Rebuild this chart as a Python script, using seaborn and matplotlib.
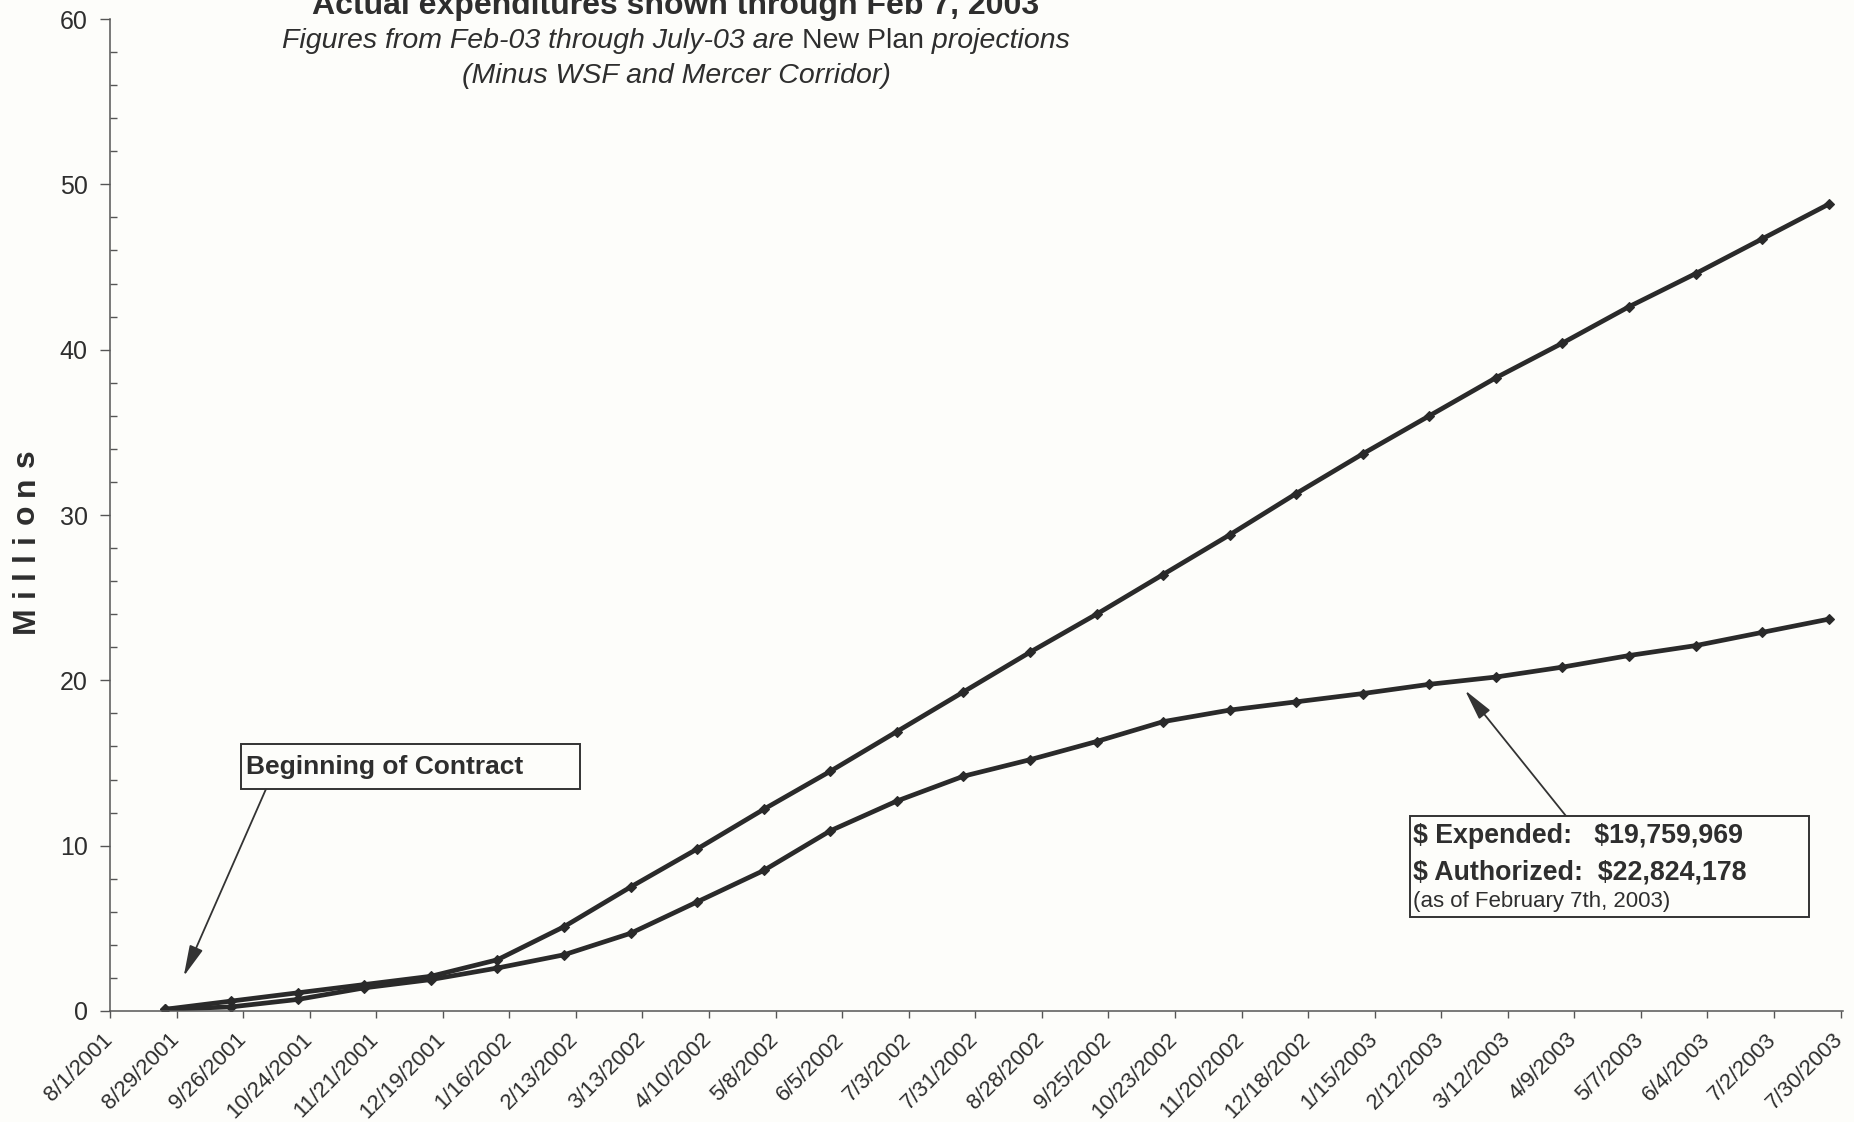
import matplotlib
matplotlib.use("Agg")
import matplotlib.pyplot as plt
from matplotlib.patches import Rectangle
from matplotlib.ticker import MultipleLocator
from matplotlib.transforms import ScaledTranslation
import pandas as pd
import seaborn as sns

# ---- data (millions of dollars, cumulative) ----
tick_labels = ["8/1/2001", "8/29/2001", "9/26/2001", "10/24/2001", "11/21/2001",
               "12/19/2001", "1/16/2002", "2/13/2002", "3/13/2002", "4/10/2002",
               "5/8/2002", "6/5/2002", "7/3/2002", "7/31/2002", "8/28/2002",
               "9/25/2002", "10/23/2002", "11/20/2002", "12/18/2002", "1/15/2003",
               "2/12/2003", "3/12/2003", "4/9/2003", "5/7/2003", "6/4/2003",
               "7/2/2003", "7/30/2003"]

period_dates = ["8/24/2001", "9/21/2001", "10/19/2001", "11/16/2001", "12/14/2001",
                "1/11/2002", "2/8/2002", "3/8/2002", "4/5/2002", "5/3/2002",
                "5/31/2002", "6/28/2002", "7/26/2002", "8/23/2002", "9/20/2002",
                "10/18/2002", "11/15/2002", "12/13/2002", "1/10/2003", "2/7/2003",
                "3/7/2003", "4/4/2003", "5/2/2003", "5/30/2003", "6/27/2003",
                "7/25/2003"]

plan_millions = [0.1, 0.6, 1.1, 1.6, 2.1, 3.1, 5.1, 7.5, 9.8, 12.2,
                 14.5, 16.9, 19.3, 21.7, 24.0, 26.4, 28.8, 31.3, 33.7, 36.0,
                 38.3, 40.4, 42.6, 44.6, 46.7, 48.8]

expended_millions = [0.1, 0.25, 0.7, 1.4, 1.9, 2.6, 3.4, 4.7, 6.6, 8.5,
                     10.9, 12.7, 14.2, 15.2, 16.3, 17.5, 18.2, 18.7, 19.2, 19.759969,
                     20.2, 20.8, 21.5, 22.1, 22.9, 23.7]

series_names = ["Plan", "Expended"]

title_text = "Actual expenditures shown through Feb 7, 2003"
subtitle_parts = [("Figures from Feb-03 through July-03 are ", "italic"),
                  ("New Plan", "normal"),
                  (" projections", "italic")]
subtitle2_text = "(Minus WSF and Mercer Corridor)"
ylabel_text = "Millions"
contract_note = "Beginning of Contract"
status_lines = ["$ Expended:   $19,759,969", "$ Authorized:  $22,824,178",
                "(as of February 7th, 2003)"]

# ---- style ----
sns.set_theme(style="white")
plt.rcParams["font.family"] = ["Liberation Sans", "DejaVu Sans"]

BG = "#fdfdfa"
INK = "#2e2e2e"
LINE = "#2a2a2a"
AXIS = "#555555"

W, H = 1854, 1122
fig = plt.figure(figsize=(W / 100, H / 100), dpi=100, facecolor=BG)


def fx(px):
    return px / W


def fy(py):
    return 1 - py / H


ax = fig.add_axes([fx(110), fy(1011), fx(1843) - fx(110), fy(19) - fy(1011)])
ax.set_facecolor(BG)

dates = pd.to_datetime(period_dates, format="%m/%d/%Y")
df = pd.DataFrame({
    "date": list(dates) * 2,
    "value": plan_millions + expended_millions,
    "series": [series_names[0]] * len(dates) + [series_names[1]] * len(dates),
})

sns.lineplot(data=df, x="date", y="value", hue="series",
             palette=[LINE, LINE], marker="D", markersize=5,
             markeredgecolor=LINE, markeredgewidth=0.8, linewidth=3.4,
             legend=False, estimator=None, ax=ax)

tick_dates = pd.to_datetime(tick_labels, format="%m/%d/%Y")
ax.set_xlim(tick_dates[0], tick_dates[-1] + pd.Timedelta(days=1))
ax.set_xticks(tick_dates)
ax.set_xticklabels(tick_labels, rotation=45, ha="right", va="top",
                   rotation_mode="anchor", fontsize=16, color=INK)
ax.set_ylim(0, 60)
ax.yaxis.set_major_locator(MultipleLocator(10))
ax.yaxis.set_minor_locator(MultipleLocator(2))

ax.tick_params(axis="x", which="major", bottom=True, direction="out",
               length=5, width=1, color=AXIS, pad=8)
ax.tick_params(axis="y", which="major", left=True, direction="out",
               length=7, width=1, color=AXIS, pad=9, labelsize=18,
               labelcolor=INK)
ax.tick_params(axis="y", which="minor", left=True, direction="in",
               length=5, width=1, color=AXIS)
ax.set_xlabel("")
ax.set_ylabel("")

# nudge the slanted date labels so their ends sit just left of each tick
shift = ScaledTranslation(-8 / 100, 0, fig.dpi_scale_trans)
for lab in ax.get_xticklabels():
    lab.set_transform(lab.get_transform() + shift)

for side in ("top", "right"):
    ax.spines[side].set_visible(False)
for side in ("left", "bottom"):
    ax.spines[side].set_color(AXIS)
    ax.spines[side].set_linewidth(1.1)

fig.canvas.draw()
renderer = fig.canvas.get_renderer()

# ---- titles ----
fig.text(fx(676), fy(14), title_text, ha="center", va="baseline",
         fontsize=23, fontweight="bold", color=INK)

pieces = []
for txt, style in subtitle_parts:
    pieces.append(fig.text(0, fy(48), txt, ha="left", va="baseline",
                           fontsize=20.5, fontstyle=style, color=INK))
widths = [p.get_window_extent(renderer).width for p in pieces]
x0 = 676 - sum(widths) / 2
for p, w in zip(pieces, widths):
    p.set_x(fx(x0))
    x0 += w

fig.text(fx(676), fy(83), subtitle2_text, ha="center", va="baseline",
         fontsize=20.5, fontstyle="italic", color=INK)

# ---- spaced vertical axis title ----
letters = [fig.text(fx(26), 0, ch, rotation=90, ha="center", va="bottom",
                    fontsize=23, fontweight="bold", color=INK)
           for ch in ylabel_text]
heights = [t.get_window_extent(renderer).height for t in letters]
gap = (184 - sum(heights)) / (len(letters) - 1)
y_px = 633
for t, h in zip(letters, heights):
    t.set_y(fy(y_px))
    y_px -= h + gap

# ---- callouts ----
fig.patches.append(Rectangle((fx(241), fy(789)), fx(580) - fx(241),
                             (789 - 744) / H, transform=fig.transFigure,
                             facecolor=BG, edgecolor="#333333", linewidth=1.4))
fig.text(fx(246), fy(767), contract_note, ha="left", va="center",
         fontsize=19, fontweight="bold", color=INK)

fig.patches.append(Rectangle((fx(1410), fy(917)), fx(1809) - fx(1410),
                             (917 - 816) / H, transform=fig.transFigure,
                             facecolor=BG, edgecolor="#333333", linewidth=1.4))
fig.text(fx(1413), fy(836), status_lines[0], ha="left", va="center",
         fontsize=19.3, fontweight="bold", color=INK, parse_math=False)
fig.text(fx(1413), fy(872), status_lines[1], ha="left", va="center",
         fontsize=19.3, fontweight="bold", color=INK, parse_math=False)
fig.text(fx(1413), fy(901), status_lines[2], ha="left", va="center",
         fontsize=16, color=INK, parse_math=False)

arrow_style = dict(arrowstyle="-|>,head_length=1.9,head_width=0.43",
                   color="#333333", lw=1.3, shrinkA=0, shrinkB=0,
                   mutation_scale=10)
ax.annotate("", xy=(pd.Timestamp("2001-09-01"), 2.1),
            xytext=(fx(266), fy(789)), textcoords="figure fraction",
            arrowprops=arrow_style)
ax.annotate("", xy=(pd.Timestamp("2003-02-22"), 19.4),
            xytext=(fx(1566), fy(816)), textcoords="figure fraction",
            arrowprops=arrow_style)

fig.savefig("out.png", dpi=100, facecolor=BG)
